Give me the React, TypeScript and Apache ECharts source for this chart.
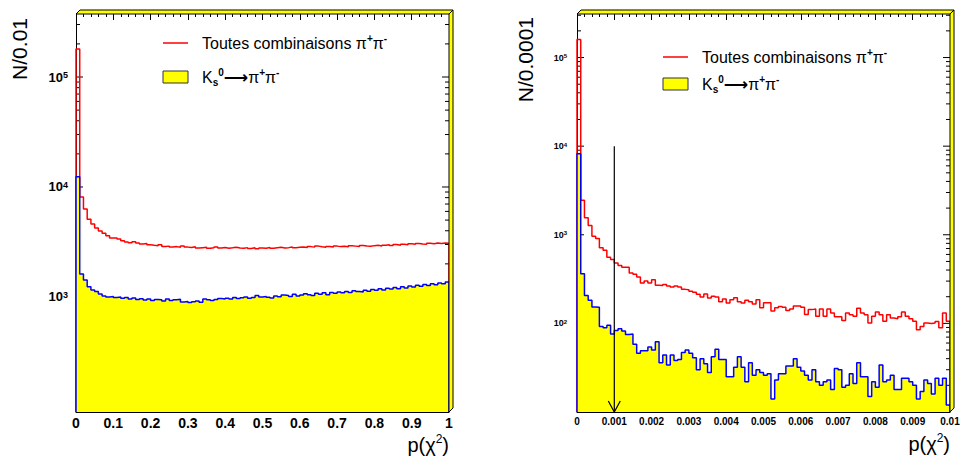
import React, { useEffect, useRef } from 'react';
import * as echarts from 'echarts';

const FONT = '"Liberation Sans", Arial, Helvetica, sans-serif';

// ---------- Left panel: p(chi2) in [0, 1], bins of 0.01 ----------
const leftBinWidth = 0.01;
const leftXMax = 1;
const leftXInterval = 0.1;
const leftYMin = 90;
const leftYMax = 374000;
const leftYLabelFrom = 1000; // lowest labelled decade
const leftYTitle = 'N/0.01';

// "Toutes combinaisons pi+ pi-"
const leftAll = [
  180000, 8100, 6300, 5100, 4600, 4240, 3980, 3790, 3600, 3440,
  3440, 3370, 3250, 3160, 3110, 3180, 3090, 3030, 3060, 2980,
  2950, 2930, 2980, 2880, 2900, 2850, 2870, 2830, 2900, 2840,
  2820, 2860, 2790, 2810, 2830, 2780, 2800, 2850, 2790, 2820,
  2780, 2800, 2830, 2790, 2770, 2810, 2760, 2800, 2740, 2790,
  2780, 2820, 2770, 2800, 2830, 2790, 2810, 2850, 2800, 2830,
  2850, 2820, 2870, 2840, 2900, 2860, 2830, 2880, 2850, 2900,
  2870, 2890, 2860, 2920, 2900, 2880, 2940, 2910, 2890, 2930,
  2950, 2910, 2960, 2990, 2940, 3000, 2960, 3020, 2990, 3050,
  3010, 3060, 3030, 3010, 3080, 3050, 3090, 3060, 3100, 3080,
];

// "Ks0 -> pi+ pi-"
const leftKs = [
  12400, 1620, 1430, 1240, 1160, 1120, 1065, 1020, 1000, 1010,
  990, 1000, 975, 990, 960, 980, 950, 965, 940, 960,
  930, 950, 945, 920, 960, 930, 945, 955, 900, 910,
  890, 905, 920, 895, 960, 945, 930, 950, 970, 960,
  975, 960, 990, 970, 985, 1000, 975, 990, 1030, 1000,
  1010, 995, 980, 1020, 1005, 1040, 1030, 1010, 1060, 1020,
  1040, 1070, 1050, 1030, 1080, 1060, 1090, 1050, 1100, 1080,
  1110, 1090, 1120, 1100, 1140, 1120, 1110, 1150, 1130, 1170,
  1150, 1190, 1160, 1200, 1180, 1220, 1190, 1240, 1210, 1260,
  1230, 1280, 1250, 1300, 1270, 1320, 1290, 1340, 1320, 1370,
];

// ---------- Right panel: p(chi2) in [0, 0.01], bins of 0.0001 ----------
const rightBinWidth = 0.0001;
const rightXMax = 0.01;
const rightXInterval = 0.001;
const rightYMin = 10;
const rightYMax = 310000;
const rightYLabelFrom = 100;
const rightYTitle = 'N/0.0001';

const rightAll = [
  160000, 2450, 1560, 1270, 960, 906, 716, 668, 557, 525,
  480, 449, 430, 430, 370, 358, 333, 285, 300, 285,
  310, 270, 268, 275, 265, 258, 265, 258, 242, 240,
  230, 225, 213, 198, 215, 193, 203, 198, 175, 188,
  170, 185, 195, 175, 170, 182, 175, 166, 185, 150,
  171, 171, 138, 150, 155, 152, 140, 145, 157, 157,
  152, 126, 143, 145, 120, 145, 120, 145, 131, 119,
  119, 108, 131, 125, 120, 148, 131, 125, 101, 120,
  134, 125, 106, 125, 115, 113, 119, 134, 120, 113,
  106, 85, 92, 101, 100, 101, 105, 89, 131, 106,
];

const rightKs = [
  8200, 363, 207, 182, 153, 152, 92, 89, 95, 76,
  83, 87, 82, 75, 76, 58, 46, 49, 49, 54,
  50, 62, 36, 44, 34, 44, 38, 39, 47, 50,
  46, 41, 30, 40, 35, 28, 42, 51, 39, 39,
  25, 25, 32, 42, 32, 22, 36, 26, 30, 28,
  26, 27, 14, 23, 27, 27, 33, 33, 40, 32,
  29, 26, 23, 30, 22, 20, 22, 23, 18, 31,
  30, 19, 20, 27, 21, 36, 25, 25, 15, 22,
  19, 34, 22, 23, 26, 18, 18, 24, 24, 22,
  20, 14, 17, 23, 21, 16, 24, 20, 24, 12,
];

// cut marker (arrow) on the right panel
const cutValue = 0.001;
const cutArrowTop = 10000;

// ---------- layout ----------
const leftGrid = { left: 76, top: 14, width: 373, height: 398 };
const rightGrid = { left: 577, top: 14, width: 373, height: 398 };

const RED = '#ff0000';
const BLUE = '#0000ff';
const YELLOW = '#ffff00';

function stepPoints(values: number[], w: number, ymin: number) {
  const pts: number[][] = [[0, ymin]];
  values.forEach((v, i) => pts.push([i * w, v]));
  const end = values.length * w;
  pts.push([end, values[values.length - 1]]);
  pts.push([end, ymin]);
  return pts;
}

function logTickData(min: number, max: number) {
  const out: number[][] = [];
  for (let e = -1; e <= 7; e++) {
    for (let m = 1; m <= 9; m++) {
      const v = m * Math.pow(10, e);
      if (v > min && v < max) out.push([0, v, m === 1 ? 1 : 0]);
    }
  }
  return out;
}

function frame3D(g: { left: number; top: number; width: number; height: number }) {
  const l = g.left, t = g.top, r = g.left + g.width, b = g.top + g.height, d = 4;
  const style = { fill: YELLOW, stroke: '#000', lineWidth: 1 };
  return [
    { type: 'polygon', z: 100, silent: true, shape: { points: [[l, t], [l + d, t - d], [r + d, t - d], [r, t]] }, style },
    { type: 'polygon', z: 100, silent: true, shape: { points: [[r, t], [r + d, t - d], [r + d, b - d], [r, b]] }, style },
  ];
}

const legendRich = {
  t: { fontSize: 16, fontFamily: FONT, lineHeight: 20, fill: '#000' },
  ar: { fontSize: 17, fontFamily: '"DejaVu Sans", sans-serif', fontWeight: 'bold', lineHeight: 20, fill: '#000' },
  sup: { fontSize: 10, fontFamily: FONT, fontWeight: 'bold', lineHeight: 11, verticalAlign: 'top', fill: '#000' },
  sub: { fontSize: 10, fontFamily: FONT, fontWeight: 'bold', lineHeight: 11, verticalAlign: 'bottom', fill: '#000' },
};

function legend(x: number, yLine: number, yBox: number) {
  const textAll = '{t|Toutes combinaisons π}{sup|+}{t|π}{sup|-}';
  const textKs = '{t|K}{sub|s}{sup|0}{ar|⟶}{t|π}{sup|+}{t|π}{sup|-}';
  return [
    { type: 'line', z: 100, silent: true, shape: { x1: x, y1: yLine, x2: x + 25, y2: yLine }, style: { stroke: RED, lineWidth: 1.5 } },
    { type: 'text', z: 100, silent: true, x: x + 39, y: yLine, style: { text: textAll, rich: legendRich, textAlign: 'left', textVerticalAlign: 'middle', align: 'left', verticalAlign: 'middle' } },
    { type: 'rect', z: 100, silent: true, shape: { x: x, y: yBox - 6, width: 25, height: 12 }, style: { fill: YELLOW, stroke: '#333', lineWidth: 1 } },
    { type: 'text', z: 100, silent: true, x: x + 39, y: yBox, style: { text: textKs, rich: legendRich, textAlign: 'left', textVerticalAlign: 'middle', align: 'left', verticalAlign: 'middle' } },
  ];
}

const titleRich = {
  t: { fontSize: 20, fontFamily: FONT, lineHeight: 24, fill: '#000' },
  sup: { fontSize: 12, fontFamily: FONT, lineHeight: 12, verticalAlign: 'top', fill: '#000' },
};

function yTitle(text: string, x: number, y: number) {
  return {
    type: 'text', z: 100, silent: true, x, y, rotation: Math.PI / 2,
    style: { text, font: `21px ${FONT}`, fill: '#000', textAlign: 'right', textVerticalAlign: 'middle', align: 'right', verticalAlign: 'middle' },
  };
}

function xTitle(x: number, y: number) {
  return {
    type: 'text', z: 100, silent: true, x, y,
    style: { text: '{t|p(χ}{sup|2}{t|)}', rich: titleRich, textAlign: 'right', textVerticalAlign: 'middle', align: 'right', verticalAlign: 'middle' },
  };
}

function logLabelFormatter(labelFrom: number) {
  return (v: number) => {
    const e = Math.log10(v);
    const r = Math.round(e);
    if (Math.abs(e - r) > 1e-6) return '';
    if (Math.pow(10, r) < labelFrom * 0.999) return '';
    return `{b|10}{s|${r}}`;
  };
}

function bottomAxis(gridIndex: number, max: number, interval: number, fontSize: number, margin: number) {
  return {
    gridIndex, type: 'value', min: 0, max, interval, position: 'bottom', z: 5,
    axisLine: { show: true, onZero: false, lineStyle: { color: '#000', width: 1 } },
    axisTick: { show: false },
    splitLine: { show: false },
    axisLabel: {
      show: true, margin, fontSize, fontWeight: 'bold', fontFamily: FONT, color: '#000',
      showMinLabel: true, showMaxLabel: true, hideOverlap: false,
      formatter: (v: number) => String(parseFloat(v.toFixed(5))),
    },
  };
}

function topAxis(gridIndex: number, max: number, interval: number) {
  return {
    gridIndex, type: 'value', min: 0, max, interval, position: 'top',
    axisLine: { show: false, onZero: false },
    axisTick: { show: true, inside: true, length: 6, lineStyle: { color: '#000', width: 1 } },
    minorTick: { show: true, splitNumber: 5, length: 3, lineStyle: { color: '#000', width: 1 } },
    splitLine: { show: false },
    minorSplitLine: { show: false },
    axisLabel: { show: false },
  };
}

function leftAxis(gridIndex: number, min: number, max: number, labelFrom: number, big: number, small: number, margin: number) {
  return {
    gridIndex, type: 'log', logBase: 10, min, max,
    axisLine: { show: true, onZero: false, lineStyle: { color: '#000', width: 1 } },
    axisTick: { show: false },
    splitLine: { show: false },
    axisLabel: {
      show: true, margin, formatter: logLabelFormatter(labelFrom),
      rich: {
        b: { fontSize: big, fontWeight: 'bold', fontFamily: FONT, color: '#000' },
        s: { fontSize: small, fontWeight: 'bold', fontFamily: FONT, color: '#000', verticalAlign: 'top', lineHeight: small + 1 },
      },
    },
  };
}

function tickSeries(xAxisIndex: number, yAxisIndex: number, min: number, max: number) {
  return {
    type: 'custom', xAxisIndex, yAxisIndex, z: 1, silent: true,
    data: logTickData(min, max),
    encode: { x: 0, y: 1 },
    renderItem: (params: any, api: any) => {
      const cs = params.coordSys;
      const y = api.coord([0, api.value(1)])[1];
      const len = api.value(2) ? 7 : 4;
      return {
        type: 'group',
        children: [
          { type: 'line', shape: { x1: cs.x, y1: y, x2: cs.x + len, y2: y }, style: { stroke: '#000', lineWidth: 1 } },
          { type: 'line', shape: { x1: cs.x + cs.width, y1: y, x2: cs.x + cs.width - len, y2: y }, style: { stroke: '#000', lineWidth: 1 } },
        ],
      };
    },
  };
}

function histSeries(xAxisIndex: number, yAxisIndex: number, all: number[], ks: number[], w: number, ymin: number) {
  return [
    {
      type: 'line', name: 'Toutes combinaisons', xAxisIndex, yAxisIndex, z: 2,
      data: stepPoints(all, w, ymin), step: 'end', symbol: 'none', showSymbol: false,
      lineStyle: { color: RED, width: 1.5 }, silent: true,
    },
    {
      type: 'line', name: 'Ks0', xAxisIndex, yAxisIndex, z: 3,
      data: stepPoints(ks, w, ymin), step: 'end', symbol: 'none', showSymbol: false,
      lineStyle: { color: BLUE, width: 1.5 },
      areaStyle: { color: YELLOW, opacity: 1, origin: 'start' }, silent: true,
    },
  ];
}

const arrowSeries = {
  type: 'custom', xAxisIndex: 2, yAxisIndex: 1, z: 10, silent: true,
  data: [[cutValue, cutArrowTop]],
  encode: { x: 0, y: 1 },
  renderItem: (params: any, api: any) => {
    const cs = params.coordSys;
    const top = api.coord([api.value(0), api.value(1)]);
    const bx = top[0];
    const by = cs.y + cs.height;
    return {
      type: 'group',
      children: [
        { type: 'line', shape: { x1: bx, y1: top[1], x2: bx, y2: by }, style: { stroke: '#000', lineWidth: 1.2 } },
        { type: 'polyline', shape: { points: [[bx - 6, by - 11], [bx, by], [bx + 6, by - 11]] }, style: { stroke: '#000', lineWidth: 1.2, fill: null } },
      ],
    };
  },
};

export default function App() {
  const ref = useRef<HTMLDivElement>(null);
  useEffect(() => {
    document.body.style.margin = '0';
    const chart = echarts.init(ref.current as HTMLDivElement, null, { renderer: 'svg' });
    const option: any = {
      animation: false,
      backgroundColor: '#ffffff',
      grid: [
        { ...leftGrid, outerBoundsMode: 'none', containLabel: false },
        { ...rightGrid, outerBoundsMode: 'none', containLabel: false },
      ],
      xAxis: [
        bottomAxis(0, leftXMax, leftXInterval, 14, 4),
        topAxis(0, leftXMax, leftXInterval),
        bottomAxis(1, rightXMax, rightXInterval, 10, 4),
        topAxis(1, rightXMax, rightXInterval),
      ],
      yAxis: [
        leftAxis(0, leftYMin, leftYMax, leftYLabelFrom, 13, 9, 8),
        leftAxis(1, rightYMin, rightYMax, rightYLabelFrom, 9, 6, 10),
      ],
      series: [
        tickSeries(0, 0, leftYMin, leftYMax),
        ...histSeries(0, 0, leftAll, leftKs, leftBinWidth, leftYMin),
        tickSeries(2, 1, rightYMin, rightYMax),
        ...histSeries(2, 1, rightAll, rightKs, rightBinWidth, rightYMin),
        arrowSeries,
      ],
      graphic: {
        elements: [
          ...frame3D(leftGrid),
          ...frame3D(rightGrid),
          ...legend(163, 43, 77),
          ...legend(663, 57, 84),
          yTitle(leftYTitle, 19, 18),
          yTitle(rightYTitle, 525, 17),
          xTitle(449, 445),
          xTitle(950, 444),
        ],
      },
    };
    chart.setOption(option);
    return () => chart.dispose();
  }, []);
  return <div ref={ref} style={{ width: 962, height: 458, position: 'absolute', left: 0, top: 0 }} />;
}
